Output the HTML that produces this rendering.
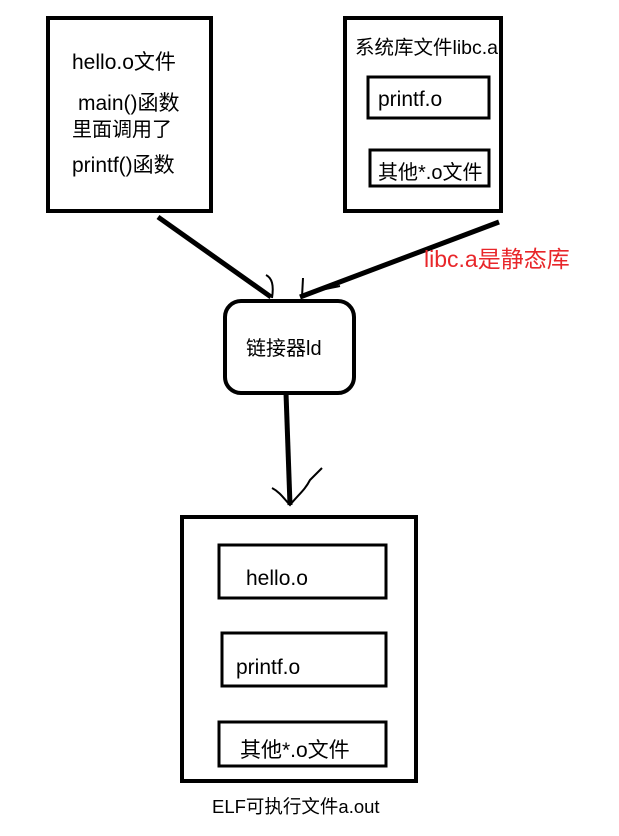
<!DOCTYPE html>
<html><head><meta charset="utf-8"><style>
body{margin:0;background:#fff;width:619px;height:831px;overflow:hidden}
svg text{font-family:"Liberation Sans","Noto Sans CJK SC",sans-serif;font-size:20px;fill:#000}
</style></head><body>
<svg width="619" height="831" viewBox="0 0 619 831" xmlns="http://www.w3.org/2000/svg">
<g fill="none" stroke="#000" stroke-width="4">
<rect x="48" y="18" width="163" height="193"/>
<rect x="345" y="18" width="156" height="193"/>
<rect x="368" y="77" width="121" height="41" stroke-width="3"/>
<rect x="370" y="150" width="119" height="36" stroke-width="3"/>
<rect x="225" y="301" width="129" height="92" rx="16"/>
<rect x="182" y="517" width="234" height="264"/>
<rect x="219" y="545" width="167" height="53" stroke-width="3"/>
<rect x="222" y="633" width="164" height="53" stroke-width="3"/>
<rect x="219" y="722" width="167" height="44" stroke-width="3"/>
<path d="M158 217 L271 297" stroke-width="5"/>
<path d="M499 222 L300 297" stroke-width="5"/>
<path d="M286 393 L290 505" stroke-width="5"/>
<path d="M266 275 C272 278 274 285 272 298" stroke-width="2"/>
<path d="M303 278 L302 297 C310 292 320 290 340 286" stroke-width="2"/>
<path d="M272 488 C280 492 285 500 290 505 C298 495 305 490 310 480 L322 468" stroke-width="2"/>
</g>
<text x="72" y="69" style="font-size:21px">hello.o文件</text>
<text x="78" y="110" style="font-size:21px">main()函数</text>
<text x="72" y="136" style="font-size:20px">里面调用了</text>
<text x="72" y="172" style="font-size:21px">printf()函数</text>
<text x="355" y="54" style="font-size:19.5px">系统库文件libc.a</text>
<text x="378" y="106" style="font-size:21px">printf.o</text>
<text x="378" y="179">其他*.o文件</text>
<text x="424" y="267" style="fill:#e8262a;font-size:23px">libc.a是静态库</text>
<text x="246" y="355">链接器ld</text>
<text x="246" y="585" style="font-size:21px">hello.o</text>
<text x="236" y="674" style="font-size:21px">printf.o</text>
<text x="240" y="757" style="font-size:21px">其他*.o文件</text>
<text x="212" y="813" style="font-size:18.5px">ELF可执行文件a.out</text>
</svg>
</body></html>
